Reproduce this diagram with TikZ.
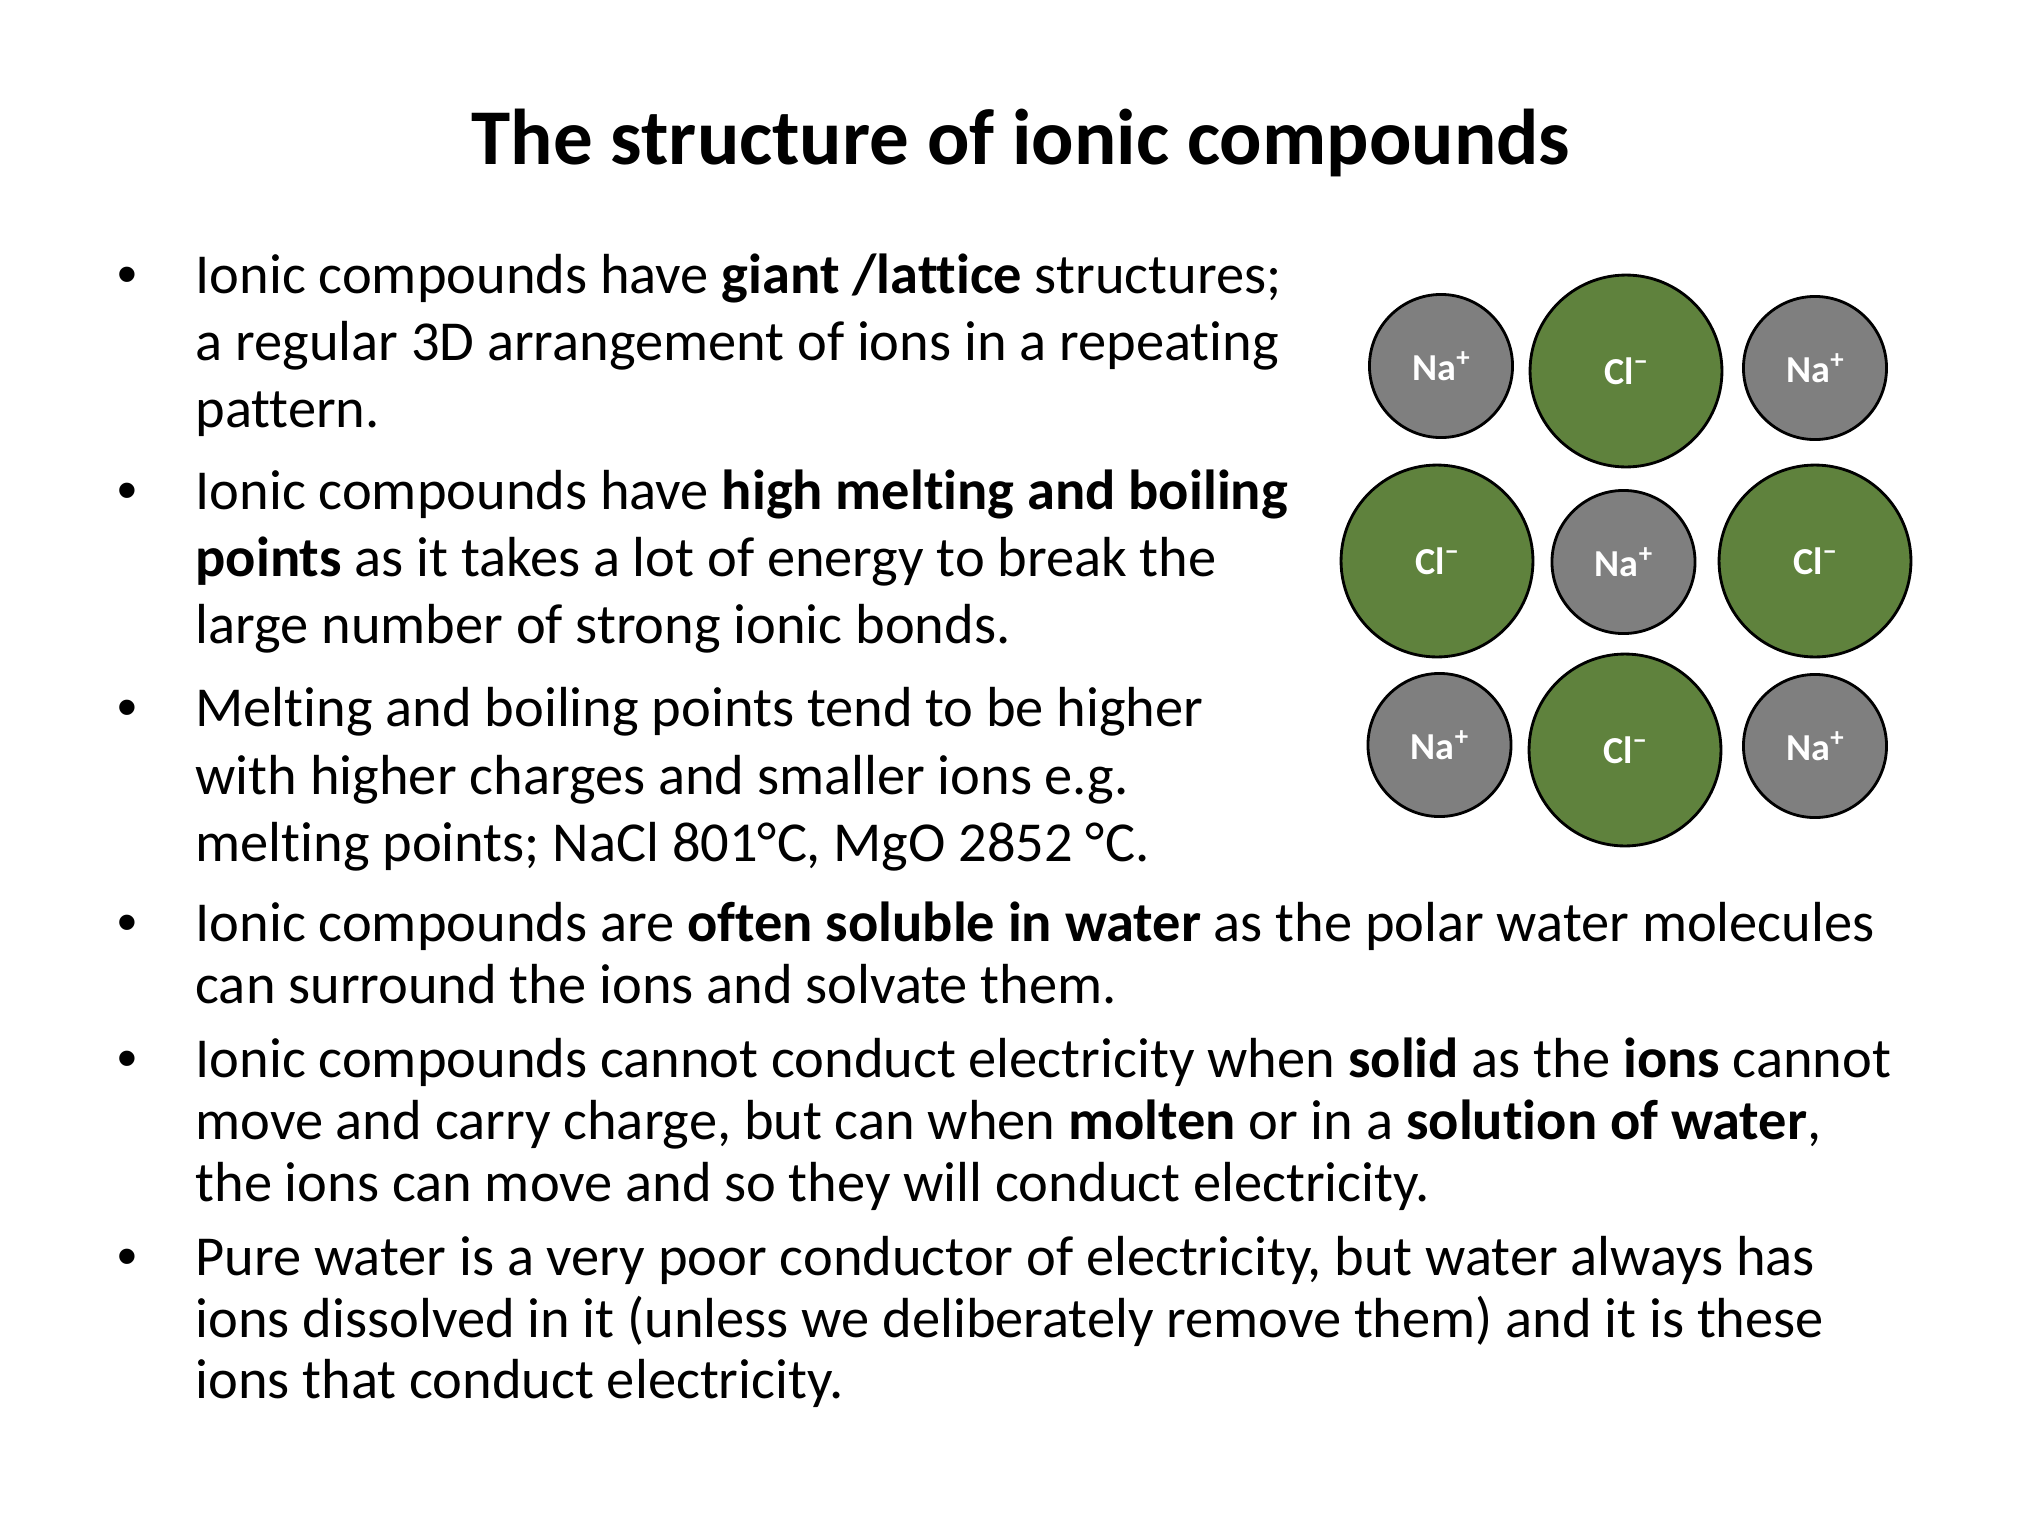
\documentclass[tikz,border=0pt]{standalone}
\usepackage{fontspec}
\setmainfont{Carlito}[Ligatures={NoCommon}]
\newfontfamily\bulletfont{Liberation Sans}
\definecolor{iongray}{RGB}{127,127,127}
\definecolor{iongreen}{RGB}{95,130,61}
\newcommand\ionsup[1]{\raisebox{0.36em}{\fontsize{9.5}{9.5}\selectfont #1}}
\begin{document}
\begin{tikzpicture}[x=0.35433pt,y=-0.35433pt,
  titlestyle/.style={anchor=base,inner sep=0pt,font=\bfseries\fontsize{28}{34}\selectfont},
  txt/.style={anchor=base west,inner sep=0pt,font=\fontsize{20}{24}\selectfont},
  bul/.style={anchor=base west,inner sep=0pt,font=\bulletfont\fontsize{20}{24}\selectfont},
  ion/.style={circle,draw=black,line width=1pt,inner sep=0pt,text=white,font=\bfseries\fontsize{13.5}{13.5}\selectfont},
  na/.style={ion,fill=iongray,minimum size=50.7pt},
  cl/.style={ion,fill=iongreen,minimum size=68pt}]
\useasboundingbox (0,0) rectangle (2032,1526);
\fill[white] (0,0) rectangle (2032,1526);
\node[titlestyle] (title) at (1021,164) {The structure of ionic compounds};
% bullets
\node[bul] (b1) at (117,293) {•};
\node[bul] (b2) at (117,509) {•};
\node[bul] (b3) at (117,726) {•};
\node[bul] (b4) at (117,941) {•};
\node[bul] (b5) at (117,1077) {•};
\node[bul] (b6) at (117,1275) {•};
% text lines
\node[txt] (l11) at (195,293) {Ionic compounds have \textbf{giant /lattice} structures;};
\node[txt] (l12) at (195,360) {a regular 3D arrangement of ions in a repeating};
\node[txt] (l13) at (195,427) {pattern.};
\node[txt] (l21) at (195,509) {Ionic compounds have \textbf{high melting and boiling}};
\node[txt] (l22) at (195,576) {\textbf{points} as it takes a lot of energy to break the};
\node[txt] (l23) at (195,643) {large number of strong ionic bonds.};
\node[txt] (l31) at (195,726) {Melting and boiling points tend to be higher};
\node[txt] (l32) at (195,794) {with higher charges and smaller ions e.g.};
\node[txt] (l33) at (195,861) {melting points; NaCl 801°C, MgO 2852 °C.};
\node[txt] (l41) at (195,941) {Ionic compounds are \textbf{often soluble in water} as the polar water molecules};
\node[txt] (l42) at (195,1003) {can surround the ions and solvate them.};
\node[txt] (l51) at (195,1077) {Ionic compounds cannot conduct electricity when \textbf{solid} as the \textbf{ions} cannot};
\node[txt] (l52) at (195,1139) {move and carry charge, but can when \textbf{molten} or in a \textbf{solution of water},};
\node[txt] (l53) at (195,1201) {the ions can move and so they will conduct electricity.};
\node[txt] (l61) at (195,1275) {Pure water is a very poor conductor of electricity, but water always has};
\node[txt] (l62) at (195,1337) {ions dissolved in it (unless we deliberately remove them) and it is these};
\node[txt] (l63) at (195,1398) {ions that conduct electricity.};
% lattice
\node[na] (na1) at (1441,366) {Na\ionsup{+}};
\node[cl] (cl1) at (1626,371) {Cl\ionsup{−}};
\node[na] (na2) at (1815,368) {Na\ionsup{+}};
\node[cl] (cl2) at (1437,561) {Cl\ionsup{−}};
\node[na] (na3) at (1623.5,562) {Na\ionsup{+}};
\node[cl] (cl3) at (1815,561) {Cl\ionsup{−}};
\node[na] (na4) at (1439.5,745) {Na\ionsup{+}};
\node[cl] (cl4) at (1625,750) {Cl\ionsup{−}};
\node[na] (na5) at (1815,746) {Na\ionsup{+}};
\end{tikzpicture}
\end{document}
